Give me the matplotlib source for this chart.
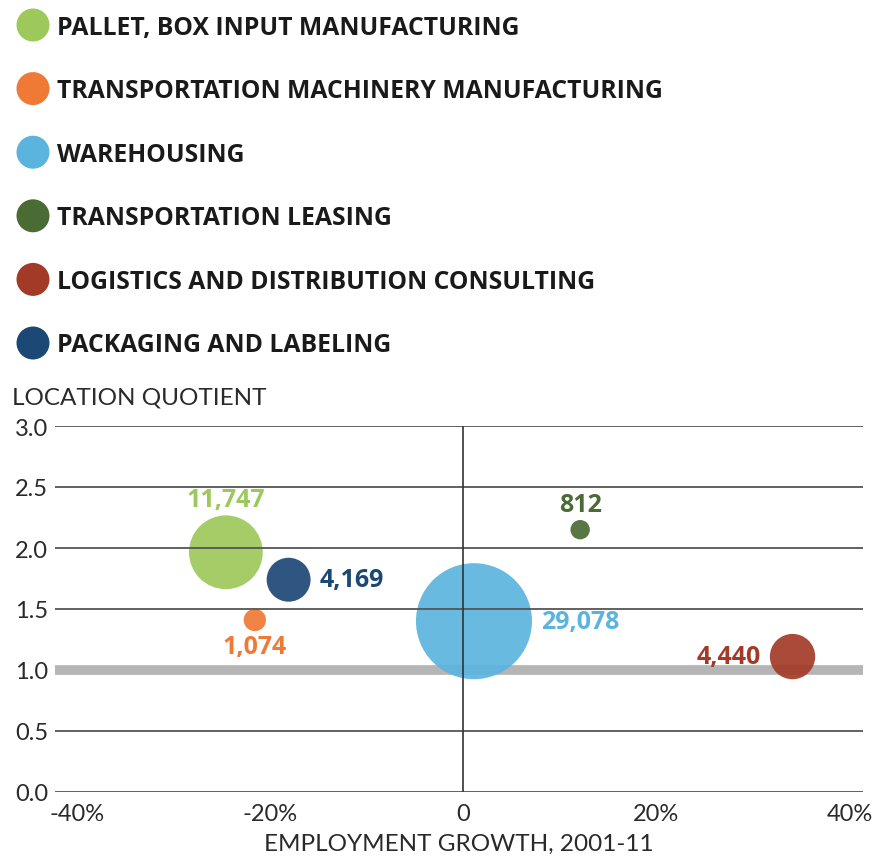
import matplotlib
matplotlib.use("Agg")
import matplotlib.pyplot as plt
import numpy as np

categories = ["PALLET, BOX INPUT MANUFACTURING",
              "TRANSPORTATION MACHINERY MANUFACTURING",
              "WAREHOUSING",
              "TRANSPORTATION LEASING",
              "LOGISTICS AND DISTRIBUTION CONSULTING",
              "PACKAGING AND LABELING"]
colors = ["#9dc85a", "#ee7a35", "#5bb4de", "#4b6b34", "#a33a27", "#1c4876"]
growth = [-24.6, -21.6, 1.1, 12.1, 34.1, -18.1]          # employment growth %
lq = [1.965, 1.41, 1.40, 2.15, 1.11, 1.74]               # location quotient
employment = [11747, 1074, 29078, 812, 4440, 4169]
label_side = ["above", "below", "right", "above", "left", "right"]

x_ticks = [-40, -20, 0, 20, 40]
x_ticklabels = ["-40%", "-20%", "0", "20%", "40%"]
y_ticks = [0.0, 0.5, 1.0, 1.5, 2.0, 2.5, 3.0]

W, H = 877, 862
fig = plt.figure(figsize=(W / 100, H / 100), dpi=100)

BOLD = "Open Sans"
LIGHT = "Lato"
TXT = "#2a2a2a"

# main axes
ax = fig.add_axes([55 / W, (H - 793) / H, (863 - 55) / W, (793 - 427) / H])
ax.set_xlim(-42.3, 41.4)
ax.set_ylim(0, 3)
for s in ax.spines.values():
    s.set_visible(False)
ax.set_xticks(x_ticks)
ax.set_xticklabels(x_ticklabels)
ax.set_yticks(y_ticks)
ax.set_yticklabels([f"{v:.1f}" for v in y_ticks])
ax.tick_params(length=0, labelsize=17, colors=TXT)
ax.tick_params(axis="y", pad=5)
ax.tick_params(axis="x", pad=8)
for t in ax.get_xticklabels() + ax.get_yticklabels():
    t.set_fontfamily(LIGHT)
    t.set_fontweight("normal")

for v in y_ticks:
    if v == 1.0:
        ax.axhline(v, color="#b5b5b5", lw=7, zorder=1)
    else:
        ax.axhline(v, color="#555555", lw=1.3, zorder=3)
ax.axvline(0, color="#333333", lw=1.2, zorder=3)

k = 0.24
sizes = [e * k for e in employment]
ax.scatter(growth, lq, s=sizes, c=colors, alpha=0.92, linewidths=0, zorder=2)

gap_v = 15.5 * 0.72
gap_h = 9 * 0.72
for x, y, s, c, e, side in zip(growth, lq, sizes, colors, employment, label_side):
    r = np.sqrt(s) / 2
    if side == "above":
        off, ha, va = (0, r + gap_v), "center", "center"
    elif side == "below":
        off, ha, va = (0, -(r + gap_v)), "center", "center"
    elif side == "right":
        off, ha, va = (r + gap_h, 0), "left", "center"
    else:
        off, ha, va = (-(r + gap_h), 0), "right", "center"
    ax.annotate(f"{e:,}", (x, y), xytext=off, textcoords="offset points",
                ha=ha, va=va, color=c, fontsize=18, fontweight="bold",
                fontfamily=BOLD, zorder=5)

ax.set_xlabel("EMPLOYMENT GROWTH, 2001-11", fontsize=17.5, fontfamily=LIGHT,
              fontweight="normal", color=TXT, labelpad=6)
fig.text(12 / W, (H - 398) / H, "LOCATION QUOTIENT", fontsize=17.5,
         fontfamily=LIGHT, fontweight="normal", color=TXT,
         ha="left", va="center")

# legend
lax = fig.add_axes([0, 0, 1, 1], zorder=-1)
lax.set_xlim(0, W)
lax.set_ylim(H, 0)
lax.axis("off")
rows = 26 + 63.6 * np.arange(len(categories))
lax.scatter([33] * len(categories), rows, s=(33 * 0.72) ** 2, c=colors, linewidths=0)
for yy, name in zip(rows, categories):
    lax.text(57, yy + 2, name, fontsize=17.8, fontweight="bold", fontfamily=BOLD,
             color="#1a1a1a", ha="left", va="center")

fig.savefig("out.png", dpi=100)
